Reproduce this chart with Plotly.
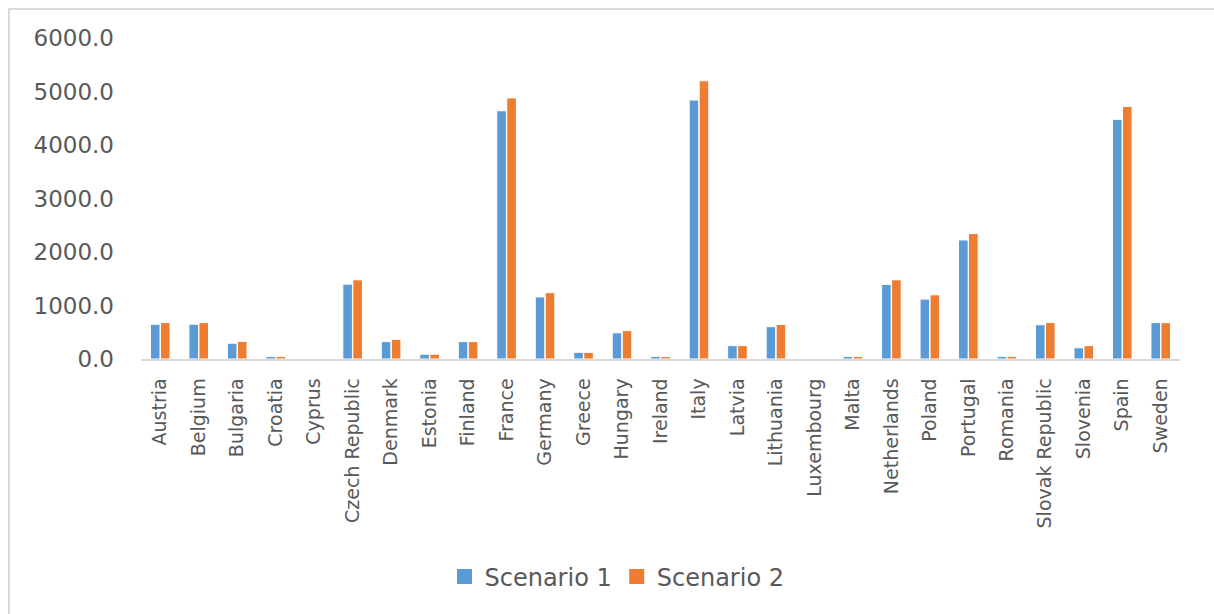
import plotly.graph_objects as go

countries = ["Austria", "Belgium", "Bulgaria", "Croatia", "Cyprus", "Czech Republic",
             "Denmark", "Estonia", "Finland", "France", "Germany", "Greece", "Hungary",
             "Ireland", "Italy", "Latvia", "Lithuania", "Luxembourg", "Malta",
             "Netherlands", "Poland", "Portugal", "Romania", "Slovak Republic",
             "Slovenia", "Spain", "Sweden"]

scenario1 = [650, 650, 295, 50, 0, 1400, 325, 90, 325, 4640, 1160, 125, 490,
             50, 4840, 250, 605, 0, 50, 1395, 1120, 2225, 50, 640, 210, 4480, 680]
scenario2 = [680, 680, 330, 50, 0, 1480, 368, 90, 325, 4880, 1240, 125, 530,
             45, 5200, 250, 645, 0, 50, 1480, 1200, 2345, 50, 680, 250, 4720, 680]

series_names = ["Scenario 1", "Scenario 2"]
y_ticks = [0, 1000, 2000, 3000, 4000, 5000, 6000]

BLUE = "#5B9BD5"
ORANGE = "#ED7D31"
TEXT = "#595959"
FONT = "DejaVu Sans"

fig = go.Figure()
for name, vals, col in zip(series_names, [scenario1, scenario2], [BLUE, ORANGE]):
    fig.add_trace(go.Bar(name=name, x=countries, y=vals, showlegend=False,
                         marker=dict(color=col, line=dict(color="white", width=1))))
# legend entries with larger square swatches
for name, col in zip(series_names, [BLUE, ORANGE]):
    fig.add_trace(go.Scatter(name=name, x=[None], y=[None], mode="markers",
                             marker=dict(symbol="square", size=15, color=col),
                             showlegend=True, hoverinfo="skip"))

W, H = 1214, 614
L, R, T, B = 141, 34, 38, 255
pw, ph = W - L - R, H - T - B

def px_x(p):
    return (p - L) / pw

def px_y(p):
    return (H - B - p) / ph

fig.update_layout(
    width=W, height=H,
    margin=dict(l=L, r=R, t=T, b=B),
    paper_bgcolor="white", plot_bgcolor="white",
    barmode="group", bargap=0.48, bargroupgap=0.04,
    font=dict(family=FONT, color=TEXT),
    showlegend=True,
    legend=dict(orientation="h", x=px_x(617), xanchor="center",
                y=px_y(577), yanchor="middle",
                font=dict(family=FONT, size=24, color=TEXT),
                itemwidth=30, tracegroupgap=0),
    xaxis=dict(showline=True, linecolor="#D9D9D9", linewidth=1.5,
               showgrid=False, ticks="", tickangle=-90,
               tickfont=dict(family=FONT, size=19, color=TEXT),
               ticklabelstandoff=10, fixedrange=True),
    yaxis=dict(range=[0, 6000], tickvals=y_ticks, tickformat=".1f",
               showgrid=False, zeroline=False, showline=False, ticks="",
               tickfont=dict(family=FONT, size=23, color=TEXT),
               ticklabelstandoff=26, fixedrange=True),
    shapes=[dict(type="rect", xref="paper", yref="paper",
                 x0=px_x(9), x1=px_x(1230), y0=px_y(630), y1=px_y(9),
                 line=dict(color="#D9D9D9", width=2), fillcolor="rgba(0,0,0,0)",
                 layer="below")],
)

fig.write_html("out.html")
